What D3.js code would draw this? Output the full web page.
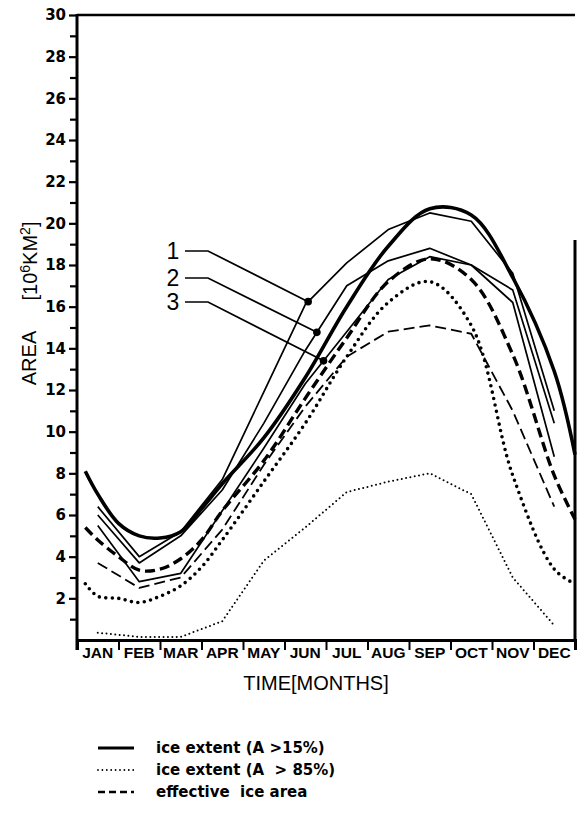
<!DOCTYPE html>
<html>
<head>
  <title>Ice area seasonal cycle</title>
  <script src="https://d3js.org/d3.v7.min.js"></script>
  <style>
    body { margin: 0; background: #fff; }
    text { fill: #000; }
  </style>
</head>
<body>
  <script>
    var width = 578,
        height = 813;

    // month bands along the x axis
    var months = ["JAN", "FEB", "MAR", "APR", "MAY", "JUN", "JUL", "AUG", "SEP", "OCT", "NOV", "DEC"];
    var yMajor = [2, 4, 6, 8, 10, 12, 14, 16, 18, 20, 22, 24, 26, 28, 30];
    var yMinor = [1, 3, 5, 7, 9, 11, 13, 15, 17, 19, 21, 23, 25, 27, 29];

    // observed curves (position in months, 0 = start of JAN)
    var obsPos       = [0.2, 0.5, 1, 1.5, 2, 2.5, 3, 3.5, 4.5, 5.5, 6.5, 7.5, 8.5, 9.5, 10.5, 11.5, 12];
    var obsExtent15  = [8.1, 7.0, 5.6, 5.0, 4.9, 5.2, 6.3, 7.5, 9.7, 12.6, 16.0, 18.9, 20.7, 20.4, 17.4, 12.9, 8.9];
    var obsExtent85  = [2.7, 2.1, 2.0, 1.8, 2.1, 2.6, 3.5, 4.8, 7.6, 10.4, 13.6, 16.2, 17.2, 15.1, 7.9, 3.4, 2.7];
    var obsEffArea   = [5.4, 4.8, 4.0, 3.35, 3.4, 3.9, 4.8, 6.2, 8.6, 11.6, 14.5, 17.2, 18.3, 17.3, 13.7, 7.9, 5.8];

    // model runs, monthly means (month centres)
    var modelPos     = [0.5, 1.5, 2.5, 3.5, 4.5, 5.5, 6.5, 7.5, 8.5, 9.5, 10.5, 11.5];
    var run1Extent15 = [6.4, 4.0, 5.2, 7.7, 11.9, 16.1, 18.1, 19.7, 20.5, 20.1, 17.6, 11.0];
    var run2Extent15 = [6.0, 3.7, 5.0, 7.2, 10.4, 13.9, 17.0, 18.2, 18.8, 18.0, 16.2, 8.8];
    var run3Extent15 = [5.5, 2.8, 3.2, 6.2, 9.2, 12.3, 14.8, 17.3, 18.4, 18.0, 16.8, 10.4];
    var modelExtent85 = [0.35, 0.15, 0.15, 0.9, 3.8, 5.4, 7.1, 7.6, 8.0, 7.0, 3.0, 0.7];
    var modelEffArea  = [3.7, 2.5, 3.0, 5.3, 8.4, 11.2, 13.6, 14.8, 15.1, 14.7, 11.0, 6.4];

    // run labels and where their leaders touch the curves
    var runLabels = ["1", "2", "3"];
    var runLabelAt = [5.57, 5.78, 5.94];

    var legendLabels = ["ice extent (A >15%)", "ice extent (A  > 85%)", "effective  ice area"];

    var svg = d3.select('body')
      .append('svg')
      .attr('width', width)
      .attr('height', height);

    var x = d3.scaleLinear().domain([0, 12]).range([77, 575]);
    var y = d3.scaleLinear().domain([0, 30]).range([640, 15]);

    // frame: top and right border
    svg.append('line')
      .attr('x1', x(0)).attr('x2', x(12))
      .attr('y1', y(30)).attr('y2', y(30))
      .attr('stroke', '#000').attr('stroke-width', 2.5);
    svg.append('line')
      .attr('x1', x(12)).attr('x2', x(12))
      .attr('y1', y(19.2)).attr('y2', y(0))
      .attr('stroke', '#000').attr('stroke-width', 3);

    // y axis
    var yAxis = svg.append('g')
      .attr('transform', 'translate(' + x(0) + ',0)')
      .call(d3.axisLeft(y).tickValues(yMajor).tickSize(8).tickSizeOuter(0).tickPadding(3));
    yAxis.select('.domain').remove();
    yAxis.selectAll('line').attr('stroke-width', 2.2);
    yAxis.selectAll('text')
      .style('font-family', '"DejaVu Sans", sans-serif')
      .style('font-weight', 'bold')
      .style('font-size', '15px');

    var yMinorAxis = svg.append('g')
      .attr('transform', 'translate(' + x(0) + ',0)')
      .call(d3.axisLeft(y).tickValues(yMinor).tickSize(7).tickFormat(''));
    yMinorAxis.select('.domain').remove();
    yMinorAxis.selectAll('line').attr('stroke-width', 2.2);

    svg.append('line')
      .attr('x1', x(0)).attr('x2', x(0))
      .attr('y1', y(30) - 1).attr('y2', 650)
      .attr('stroke', '#000').attr('stroke-width', 3);

    // x axis: band boundaries and month names
    var xAxis = svg.append('g')
      .attr('transform', 'translate(0,' + y(0) + ')')
      .call(d3.axisBottom(x).tickValues(d3.range(0, 13)).tickSize(10).tickFormat(''));
    xAxis.select('.domain').attr('stroke-width', 3);
    xAxis.selectAll('line').attr('stroke-width', 2);

    svg.append('g')
      .selectAll('text')
      .data(months)
      .enter()
      .append('text')
      .attr('x', function(d, i) { return x(i + 0.5); })
      .attr('y', 657.5)
      .attr('text-anchor', 'middle')
      .style('font-family', '"Liberation Sans", Arial, sans-serif')
      .style('font-weight', 'bold')
      .style('font-size', '15.5px')
      .text(function(d) { return d; });

    // axis titles
    svg.append('text')
      .attr('transform', 'translate(36,358) rotate(-90)')
      .attr('text-anchor', 'middle')
      .style('font-family', '"Liberation Sans", Arial, sans-serif')
      .style('font-size', '20px')
      .text('AREA');

    var unit = svg.append('text')
      .attr('transform', 'translate(37,261) rotate(-90)')
      .attr('text-anchor', 'middle')
      .style('font-family', '"Liberation Sans", Arial, sans-serif')
      .style('font-size', '20px');
    unit.append('tspan').text('[10');
    unit.append('tspan').attr('dy', -7).style('font-size', '14px').text('6');
    unit.append('tspan').attr('dy', 7).text('KM');
    unit.append('tspan').attr('dy', -7).style('font-size', '14px').text('2');
    unit.append('tspan').attr('dy', 7).text(']');

    svg.append('text')
      .attr('x', 316)
      .attr('y', 690)
      .attr('text-anchor', 'middle')
      .style('font-family', '"Liberation Sans", Arial, sans-serif')
      .style('font-size', '20px')
      .text('TIME[MONTHS]');

    // curves
    function pairs(pos, vals) {
      return pos.map(function(p, i) { return [p, vals[i]]; });
    }

    var smooth = d3.line()
      .x(function(d) { return x(d[0]); })
      .y(function(d) { return y(d[1]); })
      .curve(d3.curveCatmullRom.alpha(0.5));

    var straight = d3.line()
      .x(function(d) { return x(d[0]); })
      .y(function(d) { return y(d[1]); });

    var series = [
      { pts: pairs(modelPos, modelExtent85), gen: straight, w: 2, dash: '0 4.4' },
      { pts: pairs(modelPos, modelEffArea), gen: straight, w: 1.8, dash: '11 5' },
      { pts: pairs(modelPos, run3Extent15), gen: straight, w: 1.7, dash: null },
      { pts: pairs(modelPos, run2Extent15), gen: straight, w: 1.7, dash: null },
      { pts: pairs(modelPos, run1Extent15), gen: straight, w: 1.7, dash: null },
      { pts: pairs(obsPos, obsExtent85), gen: smooth, w: 3.6, dash: '0 6.5' },
      { pts: pairs(obsPos, obsEffArea), gen: smooth, w: 3.4, dash: '10 5' },
      { pts: pairs(obsPos, obsExtent15), gen: smooth, w: 3.6, dash: null }
    ];

    svg.append('g')
      .selectAll('path')
      .data(series)
      .enter()
      .append('path')
      .attr('d', function(d) { return d.gen(d.pts); })
      .attr('fill', 'none')
      .attr('stroke', '#000')
      .attr('stroke-width', function(d) { return d.w; })
      .attr('stroke-linecap', function(d) { return d.dash && d.dash.charAt(0) === '0' ? 'round' : 'butt'; })
      .attr('stroke-linejoin', 'round')
      .attr('stroke-dasharray', function(d) { return d.dash; });

    // run labels with leaders
    var runs = [run1Extent15, run2Extent15, run3Extent15];
    var labelY = [251, 278, 302];
    runLabels.forEach(function(lab, i) {
      var px = runLabelAt[i];
      var k = Math.floor(px - 0.5);
      var t = px - 0.5 - k;
      var v = runs[i][k] + t * (runs[i][k + 1] - runs[i][k]);
      var g = svg.append('g');
      g.append('polyline')
        .attr('points', [[185, labelY[i]], [208, labelY[i]], [x(px), y(v)]].join(' '))
        .attr('fill', 'none')
        .attr('stroke', '#000')
        .attr('stroke-width', 1.7);
      g.append('circle')
        .attr('cx', x(px)).attr('cy', y(v)).attr('r', 3.8)
        .attr('fill', '#000');
      g.append('text')
        .attr('x', 173)
        .attr('y', labelY[i] + 8)
        .attr('text-anchor', 'middle')
        .style('font-family', '"Liberation Sans", Arial, sans-serif')
        .style('font-size', '23px')
        .text(lab);
    });

    // legend
    var legendStyles = [
      { w: 3, dash: null, cap: 'butt' },
      { w: 1.8, dash: '0 4.4', cap: 'round' },
      { w: 2.4, dash: '7 4', cap: 'butt' }
    ];
    var legend = svg.append('g')
      .selectAll('g')
      .data(legendLabels)
      .enter()
      .append('g')
      .attr('transform', function(d, i) { return 'translate(0,' + (748 + i * 22) + ')'; });

    legend.append('line')
      .attr('x1', 98).attr('x2', 134)
      .attr('stroke', '#000')
      .attr('stroke-width', function(d, i) { return legendStyles[i].w; })
      .attr('stroke-linecap', function(d, i) { return legendStyles[i].cap; })
      .attr('stroke-dasharray', function(d, i) { return legendStyles[i].dash; });

    legend.append('text')
      .attr('x', 156)
      .attr('y', 5)
      .style('font-family', '"DejaVu Sans", sans-serif')
      .style('font-weight', 'bold')
      .style('font-size', '15px')
      .style('white-space', 'pre')
      .text(function(d) { return d; });
  </script>
</body>
</html>
